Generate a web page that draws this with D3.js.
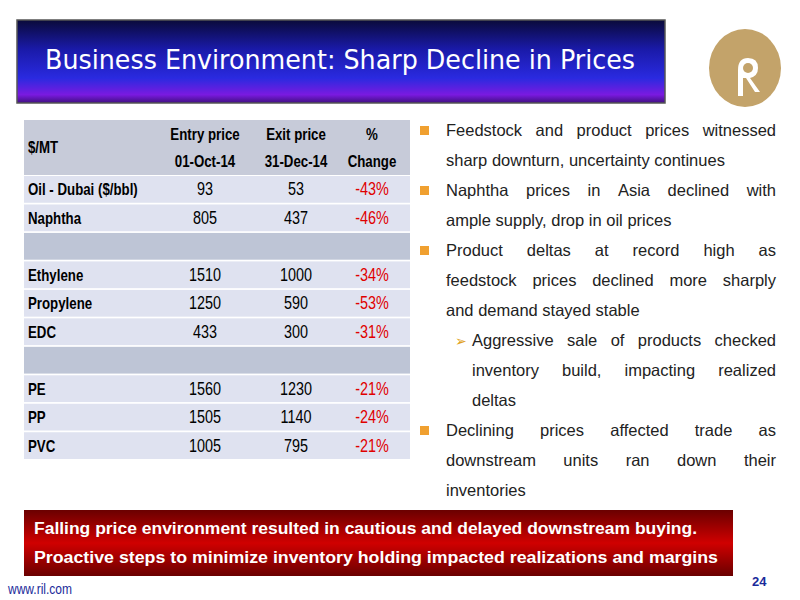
<!DOCTYPE html>
<html><head><meta charset="utf-8">
<script src="https://cdn.jsdelivr.net/npm/d3@7"></script>
<style>body{margin:0;background:#fff}</style></head>
<body><svg id="s" width="800" height="600"></svg>
<script>
const headers = [["$/MT",""],["Entry price","01-Oct-14"],["Exit price","31-Dec-14"],["%","Change"]];
const products = ["Oil - Dubai ($/bbl)","Naphtha","","Ethylene","Propylene","EDC","","PE","PP","PVC"];
const entry = [93,805,null,1510,1250,433,null,1560,1505,1005];
const exit_ = [53,437,null,1000,590,300,null,1230,1140,795];
const change = ["-43%","-46%","","-34%","-53%","-31%","","-21%","-24%","-21%"];
const bullets = [
 {lvl:0,lines:["Feedstock and product prices witnessed","sharp downturn, uncertainty continues"]},
 {lvl:0,lines:["Naphtha prices in Asia declined with","ample supply, drop in oil prices"]},
 {lvl:0,lines:["Product deltas at record high as","feedstock prices declined more sharply","and demand stayed stable"]},
 {lvl:1,lines:["Aggressive sale of products checked","inventory build, impacting realized","deltas"]},
 {lvl:0,lines:["Declining prices affected trade as","downstream units ran down their","inventories"]}
];
const footer = ["Falling price environment resulted in cautious and delayed downstream buying.","Proactive steps to minimize inventory holding impacted realizations and margins"];

const svg = d3.select("#s");
const defs = svg.append("defs");
const g1 = defs.append("linearGradient").attr("id","tg").attr("x1",0).attr("y1",0).attr("x2",0).attr("y2",1);
[[0,"#0a0a3a"],[0.35,"#1a1aa8"],[0.7,"#2a2ae0"],[0.9,"#7a1ae0"],[1,"#401080"]].forEach(d=>g1.append("stop").attr("offset",d[0]).attr("stop-color",d[1]));
const g2 = defs.append("linearGradient").attr("id","rg").attr("x1",0).attr("y1",0).attr("x2",0).attr("y2",1);
[[0,"#6a0000"],[0.5,"#d00000"],[1,"#6a0000"]].forEach(d=>g2.append("stop").attr("offset",d[0]).attr("stop-color",d[1]));

function narrow(t,f){const L=t.node().getComputedTextLength();t.attr("textLength",L*f).attr("lengthAdjust","spacingAndGlyphs");return t;}

svg.append("rect").attr("x",17).attr("y",20).attr("width",648).attr("height",83).attr("fill","url(#tg)").attr("stroke","#555").attr("stroke-width",1.5);
svg.append("text").attr("x",45).attr("y",69).attr("fill","#fff").attr("font-family","DejaVu Sans").attr("font-size",27).attr("textLength",590).attr("lengthAdjust","spacingAndGlyphs").text("Business Environment: Sharp Decline in Prices");

svg.append("ellipse").attr("cx",745).attr("cy",68).attr("rx",36).attr("ry",39).attr("fill","#c3a36a");
svg.append("path").attr("d","M738,96 L738,70 Q738,58 748,58 Q758,58 758,68 Q758,76 750,78 L760,92 L755,92 L746,78 L743,78 L743,96 Z").attr("fill","#fff");
svg.append("circle").attr("cx",748).attr("cy",68).attr("r",5).attr("fill","#c3a36a");

const tx=24, tw=386;
const col = d3.scaleOrdinal().domain([1,2,3]).range([205,296,372]);
const rowY = d3.scaleBand().domain(d3.range(products.length)).range([176,459]).paddingInner(0.06);
svg.append("rect").attr("x",tx).attr("y",120).attr("width",tw).attr("height",55).attr("fill","#c7cbd9");
const F="Liberation Sans, Arial, sans-serif";
narrow(svg.append("text").attr("x",28).attr("y",153).attr("font-family",F).attr("font-weight","bold").attr("font-size",17).text(headers[0][0]),0.78);
[1,2,3].forEach(i=>{
  [0,1].forEach(j=>narrow(svg.append("text").attr("x",col(i)).attr("y",140+j*27).attr("text-anchor","middle").attr("font-family",F).attr("font-weight","bold").attr("font-size",17).text(headers[i][j]),0.78));
});
products.forEach((p,i)=>{
  const y=rowY(i), h=rowY.bandwidth();
  svg.append("rect").attr("x",tx).attr("y",y).attr("width",tw).attr("height",h).attr("fill",p===""?"#bec5d6":"#dfe2f0");
  if(p==="") return;
  const by=y+h/2+6;
  narrow(svg.append("text").attr("x",28).attr("y",by).attr("font-family",F).attr("font-weight","bold").attr("font-size",17).text(p),0.78);
  narrow(svg.append("text").attr("x",col(1)).attr("y",by).attr("text-anchor","middle").attr("font-family",F).attr("font-size",18).text(entry[i]),0.8);
  narrow(svg.append("text").attr("x",col(2)).attr("y",by).attr("text-anchor","middle").attr("font-family",F).attr("font-size",18).text(exit_[i]),0.8);
  narrow(svg.append("text").attr("x",col(3)).attr("y",by).attr("text-anchor","middle").attr("font-family",F).attr("font-size",18).attr("fill","#e00000").text(change[i]),0.8);
});

let ly=136;
bullets.forEach(b=>{
  const x0 = b.lvl? 472:446, x1=776;
  if(b.lvl) svg.append("text").attr("x",455).attr("y",ly).attr("fill","#e0a020").attr("font-family","DejaVu Sans").attr("font-size",14).text("➢");
  else svg.append("rect").attr("x",420).attr("y",ly-10).attr("width",9).attr("height",9).attr("fill","#f0a030");
  b.lines.forEach((l,k)=>{
    const words=l.split(" ");
    const justify = k<b.lines.length-1;
    const ts=words.map(w=>svg.append("text").attr("y",ly).attr("font-family",F).attr("font-size",16.5).attr("fill","#222").text(w));
    const ws=ts.map(t=>t.node().getComputedTextLength());
    const tot=d3.sum(ws);
    const gap= justify? (x1-x0-tot)/(words.length-1) : 4.6;
    let x=x0; ts.forEach((t,m)=>{t.attr("x",x); x+=ws[m]+gap;});
    ly+=30;
  });
});

svg.append("rect").attr("x",24).attr("y",510).attr("width",709).attr("height",66).attr("fill","url(#rg)");
const fl=[663,684];
footer.forEach((f,i)=>svg.append("text").attr("x",34).attr("y",534+i*29).attr("fill","#fff").attr("font-family",F).attr("font-weight","bold").attr("font-size",16).attr("textLength",fl[i]).attr("lengthAdjust","spacingAndGlyphs").text(f));
svg.append("text").attr("x",752).attr("y",586).attr("fill","#1a2a9a").attr("font-family",F).attr("font-weight","bold").attr("font-size",13).text("24");
narrow(svg.append("text").attr("x",8).attr("y",594).attr("fill","#1a2a9a").attr("font-family",F).attr("font-size",15).text("www.ril.com"),0.8);
</script></body></html>
